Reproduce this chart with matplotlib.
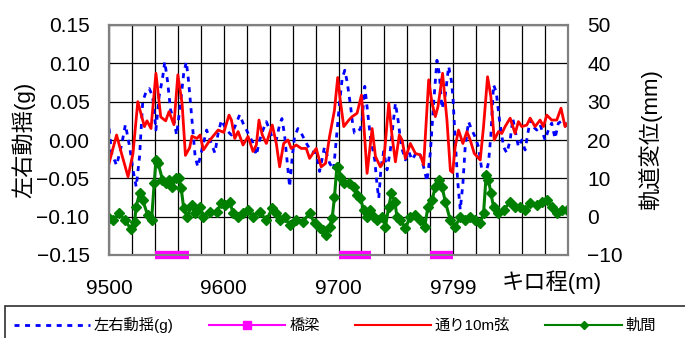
import matplotlib
matplotlib.use('Agg')
import matplotlib.pyplot as plt
from matplotlib.lines import Line2D
from matplotlib.patches import Rectangle
import numpy as np

plt.rcParams['font.family'] = ['Liberation Sans', 'Noto Sans CJK JP', 'DejaVu Sans']

# 左右動揺 (g) - left axis
sway_km = [9500, 9502.3, 9506.6, 9510.9, 9514.3, 9518, 9520.9, 9523.7, 9526.6, 9529.4,
           9532.3, 9535.1, 9538, 9540.9, 9543.7, 9546.6, 9548.6, 9550.9, 9553.7, 9556.6,
           9558.9, 9562.3, 9565.1, 9567.4, 9569.4, 9572.3, 9575.1, 9577.4, 9580.9, 9585.1,
           9588, 9592.3, 9595.1, 9598, 9602.3, 9606.7, 9609.6, 9613.9, 9616.8, 9621.2,
           9625.5, 9628.4, 9631.3, 9634.2, 9637.1, 9640, 9642.9, 9645.8, 9648.7, 9650.7,
           9653, 9655.1, 9657.4, 9659.7, 9661.7, 9664.6, 9667.5, 9671.9, 9676.2, 9680.6,
           9683.5, 9687.8, 9692.2, 9695.7, 9698.8, 9700.9, 9703.2, 9705.5, 9707.5, 9710.4,
           9711.9, 9713.9, 9716.2, 9719.1, 9720.6, 9722.9, 9724.9, 9727.8, 9731.6, 9733.6,
           9735.1, 9737.1, 9739.4, 9742.3, 9745.2, 9747.3, 9749.6, 9751.9, 9754.8, 9758.3,
           9761.2, 9764.1, 9768.4, 9771.3, 9774.2, 9777.1, 9780, 9782.9, 9785.8, 9787.8,
           9790.2, 9793.1, 9796, 9798.3, 9799.7, 9801.7, 9803.8, 9806.1, 9808.4, 9810.4,
           9813.3, 9816.2, 9819.1, 9822, 9824.9, 9827.8, 9830.7, 9832.8, 9835.1, 9837.4,
           9840.3, 9843.8, 9846.7, 9849.6, 9851.9, 9853.9, 9856.8, 9859.7, 9862.6, 9867,
           9869.9, 9872.8, 9875.7, 9880, 9882.9, 9885.8, 9888.7, 9891.6, 9896, 9899.4]
sway_g = [0.015, -0.017, -0.033, -0.007, 0.02, -0.009, -0.039, -0.061, -0.022, 0.05,
          0.063, 0.067, 0.057, 0.013, 0.057, 0.08, 0.102, 0.078, 0.039, 0.026,
          0.0065, 0.048, 0.087, 0.102, 0.076, 0.026, -0.022, -0.035, -0.013, 0.013,
          0.0, -0.017, 0.009, 0.026, 0.013, 0.0065, 0.017, 0.033, 0.022, 0.009,
          -0.004, -0.02, 0.0, 0.013, 0.024, 0.013, 0.0, 0.0, 0.02, 0.028,
          0.0065, -0.026, -0.061, -0.022, 0.004, 0.015, 0.009, -0.004, -0.015, -0.017,
          -0.041, -0.009, -0.03, -0.039, 0.013, 0.048, 0.08, 0.091, 0.076, 0.046,
          0.026, 0.009, 0.009, 0.015, 0.026, 0.07, 0.043, 0.004, -0.026, -0.059,
          -0.076, -0.035, -0.015, -0.039, -0.013, 0.017, 0.048, 0.026, -0.009, -0.026,
          -0.015, -0.026, -0.015, -0.02, -0.035, -0.054, -0.017, 0.048, 0.104, 0.087,
          0.041, 0.059, 0.096, 0.078, 0.057, 0.0, -0.052, -0.091, -0.057, -0.009,
          0.024, 0.013, 0.004, -0.009, -0.039, -0.046, -0.03, 0.0065, 0.072, 0.063,
          0.026, -0.009, -0.017, 0.0, 0.028, 0.013, -0.009, 0.0, -0.013, 0.026,
          0.017, 0.013, 0.02, 0.0, 0.013, 0.022, 0.002, 0.022, 0.026, 0.013]

# 通り10m弦 (mm) - right axis
align_km = [9500, 9506.6, 9510.9, 9516.6, 9520.9, 9525.1, 9528.6, 9530.9, 9533.1, 9536.6,
            9540.9, 9545.1, 9549.4, 9552.3, 9556.6, 9560, 9563.7, 9566.6, 9570.3, 9572.3,
            9576.6, 9579.4, 9582.3, 9588, 9595.1, 9600, 9604.6, 9606.7, 9609.6, 9612.5,
            9616.8, 9621.2, 9625.5, 9628.4, 9630.7, 9633.6, 9637.1, 9642.3, 9645.8, 9648.7,
            9652.2, 9656, 9658.8, 9663.2, 9667.5, 9671.9, 9674.8, 9680.6, 9684.9, 9688.7,
            9692.2, 9696.5, 9699.3, 9701.7, 9704.6, 9709, 9711.9, 9716.2, 9720, 9722,
            9724.9, 9729.3, 9732.2, 9736.5, 9739.4, 9743.8, 9746.7, 9749.6, 9753, 9755.4,
            9758.3, 9762.6, 9767, 9771.3, 9774.2, 9778.6, 9781.5, 9784.4, 9786.7, 9790.7,
            9794.5, 9797.5, 9799.5, 9801.7, 9804.6, 9808.4, 9811.9, 9814.8, 9818.3, 9823.5,
            9826.4, 9829.9, 9832.8, 9835.7, 9839.4, 9842.3, 9845.2, 9849.6, 9853.9, 9856.8,
            9859.7, 9864.1, 9867, 9871.3, 9875.7, 9878.6, 9881.5, 9885.8, 9890.2, 9893.9,
            9897.4, 9899.4]
align_mm = [13.9, 21.3, 16.5, 10.4, 16.5, 30, 26, 23.5, 25, 23,
            37.4, 26, 25, 27.4, 24, 37, 29.5, 16, 18, 21,
            20.4, 21.3, 17.4, 20, 22.6, 22, 26.5, 25.2, 20.4, 22.2,
            18.7, 20.9, 17, 18.7, 25.2, 21.3, 19.1, 23.9, 19.1, 13,
            19.1, 20, 17.8, 18.7, 17.8, 17.8, 15.2, 17.8, 13, 13.9,
            20.9, 27.8, 36.3, 30, 23.5, 25.2, 26.1, 27, 31.7, 24.3,
            11.3, 23, 15.7, 13, 14.3, 29.6, 20.9, 14.3, 21.3, 20,
            15.2, 19.1, 16.5, 16.1, 13.5, 35.7, 29.6, 26.1, 28.7, 37.4,
            25.2, 12, 11.5, 18.3, 22.6, 19.1, 22.2, 20, 16.5, 14.8,
            23.5, 36.5, 31.3, 20, 22.2, 21.7, 23.5, 25.7, 21.7, 24.8,
            23.5, 23.9, 25.7, 23.5, 25.2, 23.5, 26.5, 25.2, 25.2, 28.3,
            23.5, 24.3]

# 軌間 (mm) - right axis
gauge_km = [9500, 9503.7, 9508.6, 9513.7, 9519.4, 9522.3, 9523.7, 9526.6, 9529.4, 9533.7,
            9537.1, 9539.4, 9540.9, 9542.9, 9546.6, 9549.4, 9552.3, 9555.1, 9558, 9560.9,
            9562.9, 9565.1, 9568, 9572.3, 9575.1, 9579.4, 9582.3, 9588, 9593.7, 9598,
            9600.9, 9605.2, 9608.1, 9612.5, 9616.8, 9621.2, 9625.5, 9631.3, 9637.1, 9642.3,
            9645.8, 9648.7, 9653, 9657.4, 9663.2, 9669, 9674.8, 9679.1, 9683.5, 9686.4,
            9689.3, 9692.2, 9694.5, 9696.5, 9698.6, 9699.7, 9701.7, 9704.6, 9709, 9713.3,
            9716.2, 9719.1, 9722, 9724.9, 9727.8, 9730.7, 9733.6, 9738, 9740.9, 9743.8,
            9746.1, 9749, 9751, 9753.9, 9758.3, 9762.6, 9767, 9771.3, 9775.1, 9778,
            9781.5, 9784.4, 9787.2, 9790.2, 9793.1, 9797.4, 9801.7, 9806.1, 9810.4, 9814.8,
            9819.1, 9823.5, 9826.4, 9828.7, 9830.7, 9832.8, 9835.1, 9839.4, 9843.8, 9849.6,
            9853.9, 9858.3, 9862.6, 9867, 9872.8, 9877.1, 9881.5, 9885.8, 9890.2, 9894.5,
            9898.8]
gauge_mm = [-0.4, -0.9, 0.9, -0.9, -3.3, -1.3, 2.6, 6.1, 4.3, 0.4,
            -0.9, 8.7, 14.8, 13.9, 9.6, 8.7, 9.6, 7.8, 10, 10,
            7.4, 2.2, 0, 3, 0.9, 2.6, 0, 1.3, 1.3, 3.5,
            3, 3.9, 0.9, 0, 0.9, 1.7, 0, 1.3, -0.9, 2.2,
            0.9, -0.9, 0, -2.2, -0.9, -1.3, 0.9, -1.7, -3, -3.5,
            -4.8, -2.6, -0.4, 5.2, 13, 13, 10.4, 8.7, 8.7, 7.8,
            5.7, 4.8, 1.7, 0, 1.7, 0, -0.9, 0, -2.6, 2.6,
            6.1, 3.9, 0, -0.9, -3, 0, 0.4, -0.9, -2.6, 2.6,
            4.3, 7.8, 9.6, 7.8, 3.9, -0.9, -2.6, 0, -0.9, 0,
            -0.9, -1.7, 0.9, 10.9, 9.6, 6.1, 2.6, 0.9, 1.7, 3.9,
            2.6, 2.6, 1.7, 3.5, 3, 3.9, 4.3, 2.6, 0.9, 1.7,
            1.7]

# 橋梁 spans (km)
bridge_start = [9540, 9700, 9780]
bridge_end = [9570, 9728, 9800]

x_ticks = [9500, 9600, 9700, 9800]
x_tick_labels = ['9500', '9600', '9700', '9799']
left_ticks = [-0.15, -0.10, -0.05, 0.00, 0.05, 0.10, 0.15]
right_ticks = [-10, 0, 10, 20, 30, 40, 50]


def main():
    fig = plt.figure(figsize=(6.85, 3.38), dpi=100)
    ax = fig.add_axes([109 / 685, 1 - 255 / 338, 459 / 685, 230 / 338])
    ax2 = ax.twinx()

    ax.plot(sway_km, sway_g, color='#0000ff', lw=2.0, dashes=(1.8, 2.0))
    ax.set_xlim(9500, 9900)
    ax.set_ylim(-0.15, 0.15)
    ax.set_yticks(left_ticks)
    ax.set_yticklabels(['%.2f' % v if v >= 0 else '\u2212%.2f' % -v for v in left_ticks])
    ax.set_xticks(x_ticks)
    ax.set_xticklabels(x_tick_labels)
    ax.set_xticks(np.arange(9500, 9901, 20), minor=True)
    ax.grid(True, which='both', color='black', lw=0.9)
    ax.tick_params(axis='both', which='both', length=0, labelsize=15)
    ax.tick_params(axis='x', pad=17)
    ax.tick_params(axis='y', pad=14)

    ax2.plot(align_km, align_mm, color='#ff0000', lw=2.0)
    ax2.plot(gauge_km, gauge_mm, color='#008000', lw=2.2, marker='D', ms=5)
    for s, e in zip(bridge_start, bridge_end):
        ax2.plot([s, e], [-10, -10], color='#ff00ff', lw=6, solid_capstyle='butt', clip_on=False)
    ax2.set_ylim(-10, 50)
    ax2.set_yticks(right_ticks)
    ax2.set_yticklabels([str(v) if v >= 0 else '\u2212%d' % -v for v in right_ticks])
    ax2.tick_params(axis='y', length=0, labelsize=15, pad=14)

    for a in (ax, ax2):
        for sp in a.spines.values():
            sp.set_color('#808080')
            sp.set_linewidth(1.5)
    ax.spines['left'].set_color('#404040')
    ax.spines['bottom'].set_color('#404040')

    fig.text(23 / 685, 1 - 140 / 338, '左右動揺(g)', rotation=90, fontsize=16,
             ha='center', va='center')
    fig.text(650 / 685, 1 - 140 / 338, '軌道変位(mm)', rotation=90, fontsize=16,
             ha='center', va='center')
    fig.text(552 / 685, 1 - 282 / 338, 'キロ程(m)', fontsize=16, ha='center', va='center')

    # legend frame running off the figure edge
    fig.patches.append(Rectangle((5 / 685, -0.05), 0.995, 0.05 + (338 - 306) / 338,
                                 transform=fig.transFigure, fill=False,
                                 edgecolor='#303030', lw=1.2))
    handles = [
        Line2D([], [], color='#0000ff', lw=2.0, dashes=(1.8, 2.0)),
        Line2D([], [], color='#ff00ff', lw=1.5, marker='s', ms=6),
        Line2D([], [], color='#ff0000', lw=1.5),
        Line2D([], [], color='#008000', lw=1.5, marker='D', ms=4),
    ]
    labels = ['左右動揺(g)', '橋梁', '通り10m弦', '軌間']
    fig.legend(handles, labels, loc='center left', bbox_to_anchor=(0.02, 1 - 325 / 338),
               ncol=4, frameon=False, fontsize=11, handlelength=5.0,
               handletextpad=0.25, columnspacing=2.3, borderaxespad=0, borderpad=0)

    fig.savefig('out.png', dpi=100)


if __name__ == '__main__':
    main()
